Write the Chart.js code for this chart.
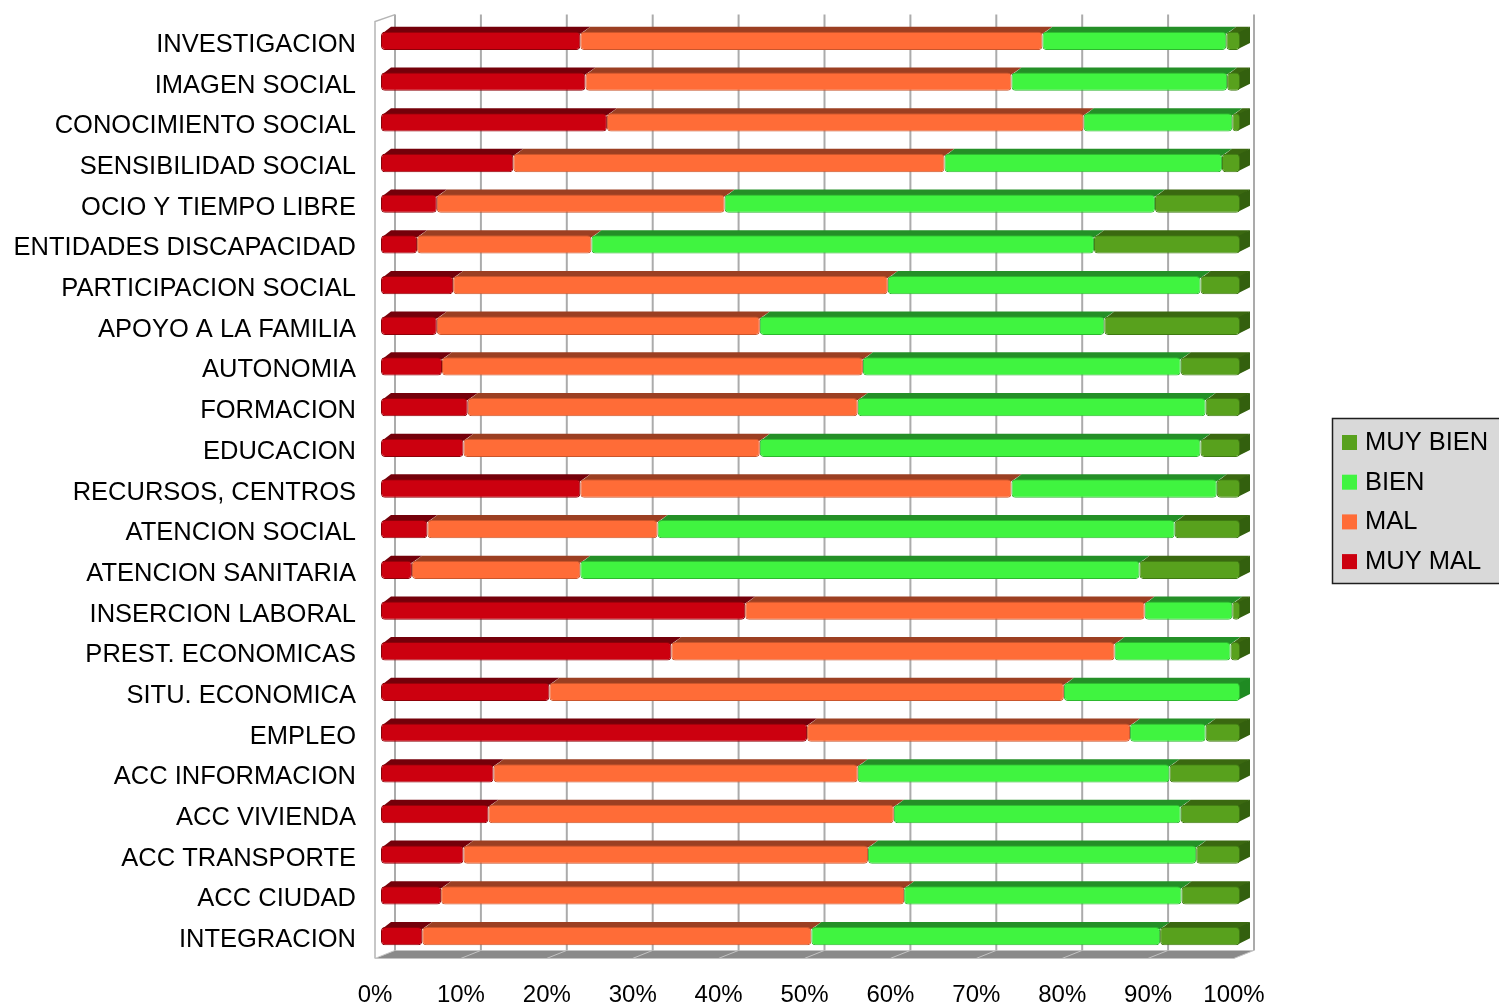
<!DOCTYPE html>
<html>
<head>
<meta charset="utf-8">
<script src="https://cdn.jsdelivr.net/npm/chart.js@4.4.1/dist/chart.umd.min.js"></script>
<style>
html, body { margin: 0; padding: 0; background: #fff; }
#wrap { width: 1499px; height: 1006px; }
</style>
</head>
<body>
<div id="wrap"><canvas id="myChart"></canvas></div>
<script>
var categories = ['INVESTIGACION', 'IMAGEN SOCIAL', 'CONOCIMIENTO SOCIAL', 'SENSIBILIDAD SOCIAL',
    'OCIO Y TIEMPO LIBRE', 'ENTIDADES DISCAPACIDAD', 'PARTICIPACION SOCIAL', 'APOYO A LA FAMILIA',
    'AUTONOMIA', 'FORMACION', 'EDUCACION', 'RECURSOS, CENTROS', 'ATENCION SOCIAL',
    'ATENCION SANITARIA', 'INSERCION LABORAL', 'PREST. ECONOMICAS', 'SITU. ECONOMICA', 'EMPLEO',
    'ACC INFORMACION', 'ACC VIVIENDA', 'ACC TRANSPORTE', 'ACC CIUDAD', 'INTEGRACION'];

var muyMal  = [23.2, 23.8, 26.3, 15.4, 6.5, 4.2, 8.4, 6.5, 7.1, 10.1, 9.6, 23.2, 5.4, 3.6, 42.4, 33.8, 19.6, 49.6, 13.1, 12.5, 9.6, 7.0, 4.8];
var mal     = [53.8, 49.6, 55.5, 50.2, 33.5, 20.3, 50.6, 37.6, 49.0, 45.4, 34.5, 50.2, 26.8, 19.6, 46.5, 51.6, 59.9, 37.6, 42.4, 47.2, 47.1, 53.9, 45.3];
var bien    = [21.4, 25.1, 17.3, 32.3, 50.1, 58.5, 36.4, 40.1, 37.0, 40.5, 51.3, 23.9, 60.2, 65.1, 10.2, 13.5, 20.5, 8.8, 36.3, 33.4, 38.2, 32.3, 40.6];
var muyBien = [1.6, 1.5, 0.9, 2.1, 9.9, 17.0, 4.6, 15.8, 6.9, 4.0, 4.6, 2.7, 7.6, 11.7, 0.9, 1.1, 0, 4.0, 8.2, 6.9, 5.1, 6.8, 9.3];

var xTicks = [0, 10, 20, 30, 40, 50, 60, 70, 80, 90, 100];

var DX = 10, DY = 5;

// walls, floor, back gridlines and the top/end faces of the bars
var box3d = {
    id: 'box3d',
    beforeDatasetsDraw: function(chart) {
        var ctx = chart.ctx, a = chart.chartArea, xs = chart.scales.x;
        function front(v) { return xs.getPixelForValue(v) - 6; }
        function back(v) { return front(v) + 20; }
        ctx.save();

        // floor
        ctx.fillStyle = '#8a8a8a';
        ctx.beginPath();
        ctx.moveTo(front(0), a.bottom + 2);
        ctx.lineTo(front(100), a.bottom + 2);
        ctx.lineTo(back(100), a.bottom - 6);
        ctx.lineTo(back(0), a.bottom - 6);
        ctx.closePath();
        ctx.fill();
        ctx.strokeStyle = '#c4c4c4';
        ctx.lineWidth = 1;
        xTicks.forEach(function(v) {
            ctx.beginPath();
            ctx.moveTo(back(v), a.bottom - 6);
            ctx.lineTo(front(v), a.bottom + 2);
            ctx.stroke();
        });

        // back gridlines
        ctx.strokeStyle = '#ababab';
        ctx.lineWidth = 2;
        xTicks.forEach(function(v) {
            ctx.beginPath();
            ctx.moveTo(back(v), a.top - 6);
            ctx.lineTo(back(v), a.bottom - 6);
            ctx.stroke();
        });

        // left wall
        ctx.strokeStyle = '#b5b5b5';
        ctx.lineWidth = 1.5;
        ctx.beginPath();
        ctx.moveTo(front(0), a.bottom + 2);
        ctx.lineTo(front(0), a.top + 1);
        ctx.lineTo(back(0), a.top - 6);
        ctx.stroke();

        // bar tops and end caps
        var n = categories.length;
        var last = [];
        for (var i = 0; i < n; i++) {
            last[i] = -1;
            chart.data.datasets.forEach(function(ds, di) { if (ds.data[i] > 0) last[i] = di; });
        }
        chart.data.datasets.forEach(function(ds, di) {
            var meta = chart.getDatasetMeta(di);
            meta.data.forEach(function(el, i) {
                var p = el.getProps(['x', 'y', 'base', 'height'], true);
                var l = Math.min(p.x, p.base), r = Math.max(p.x, p.base);
                if (r - l < 0.5) return;
                var t = p.y - p.height / 2, b = p.y + p.height / 2;
                ctx.fillStyle = ds.topColor;
                ctx.beginPath();
                ctx.moveTo(l + 1, t + 2);
                ctx.lineTo(l + DX, t - DY);
                ctx.lineTo(r + DX, t - DY);
                ctx.lineTo(r, t + 2);
                ctx.closePath();
                ctx.fill();
                if (last[i] === di) {
                    ctx.fillStyle = ds.sideColor;
                    ctx.beginPath();
                    ctx.moveTo(r - 2, t + 1);
                    ctx.lineTo(r + DX, t - DY);
                    ctx.lineTo(r + DX, b - DY - 2);
                    ctx.lineTo(r - 2, b - 1);
                    ctx.closePath();
                    ctx.fill();
                }
            });
        });
        ctx.restore();
    }
};

var boxLegend = {
    id: 'boxLegend',
    afterDraw: function(chart) {
        var ctx = chart.ctx;
        ctx.save();
        ctx.fillStyle = '#d9d9d9';
        ctx.fillRect(1332, 418, 180, 165);
        ctx.strokeStyle = '#1e1e1e';
        ctx.lineWidth = 1.5;
        ctx.strokeRect(1332.5, 418.5, 180, 165);
        var items = chart.data.datasets.slice().reverse();
        ctx.font = '25.5px "Liberation Sans", Arial, sans-serif';
        ctx.textBaseline = 'middle';
        ctx.textAlign = 'left';
        items.forEach(function(ds, k) {
            var yc = 442 + k * 39.7;
            ctx.fillStyle = ds.backgroundColor;
            ctx.fillRect(1342, yc - 7, 15, 15);
            ctx.fillStyle = '#000';
            ctx.fillText(ds.label, 1365, yc + 1);
        });
        ctx.restore();
    }
};

var radius = { topLeft: 4, topRight: 4, bottomLeft: 4, bottomRight: 4 };

var ctx = document.getElementById('myChart').getContext('2d');
var myChart = new Chart(ctx, {
    type: 'bar',
    data: {
        labels: categories,
        datasets: [{
            label: 'MUY MAL',
            data: muyMal,
            backgroundColor: '#cc000f',
            borderColor: '#8e0008',
            topColor: '#74000a',
            sideColor: '#5e0006'
        }, {
            label: 'MAL',
            data: mal,
            backgroundColor: '#ff6c37',
            borderColor: '#c9552c',
            topColor: '#9b3f22',
            sideColor: '#7f331b'
        }, {
            label: 'BIEN',
            data: bien,
            backgroundColor: '#40f440',
            borderColor: '#2cb82e',
            topColor: '#248f27',
            sideColor: '#1f8a22'
        }, {
            label: 'MUY BIEN',
            data: muyBien,
            backgroundColor: '#58a11d',
            borderColor: '#3f7a12',
            topColor: '#3a6810',
            sideColor: '#33600e'
        }]
    },
    options: {
        indexAxis: 'y',
        responsive: true,
        maintainAspectRatio: false,
        animation: false,
        layout: { padding: { top: 20.6, right: 259, left: 0, bottom: 0 } },
        datasets: {
            bar: {
                barPercentage: 0.9,
                categoryPercentage: 0.5,
                borderWidth: 1,
                borderSkipped: false,
                borderRadius: radius
            }
        },
        plugins: {
            legend: { display: false },
            tooltip: { enabled: false }
        },
        scales: {
            x: {
                stacked: true,
                min: 0,
                max: 100,
                grid: { display: false, drawTicks: false },
                border: { display: false },
                ticks: {
                    stepSize: 10,
                    padding: 25,
                    labelOffset: -6,
                    color: '#000',
                    font: { family: '"Liberation Sans", Arial, sans-serif', size: 24 },
                    callback: function(v) { return v + '%'; }
                },
                afterFit: function(s) { s.height = 49.6; s.paddingLeft = 0; s.paddingRight = 0; }
            },
            y: {
                stacked: true,
                grid: { display: false, drawTicks: false },
                border: { display: false },
                ticks: {
                    padding: 25,
                    labelOffset: 4,
                    color: '#000',
                    autoSkip: false,
                    font: { family: '"Liberation Sans", Arial, sans-serif', size: 25.5 }
                },
                afterFit: function(s) { s.width = 381; s.paddingTop = 0; s.paddingBottom = 0; }
            }
        }
    },
    plugins: [box3d, boxLegend]
});
</script>
</body>
</html>
